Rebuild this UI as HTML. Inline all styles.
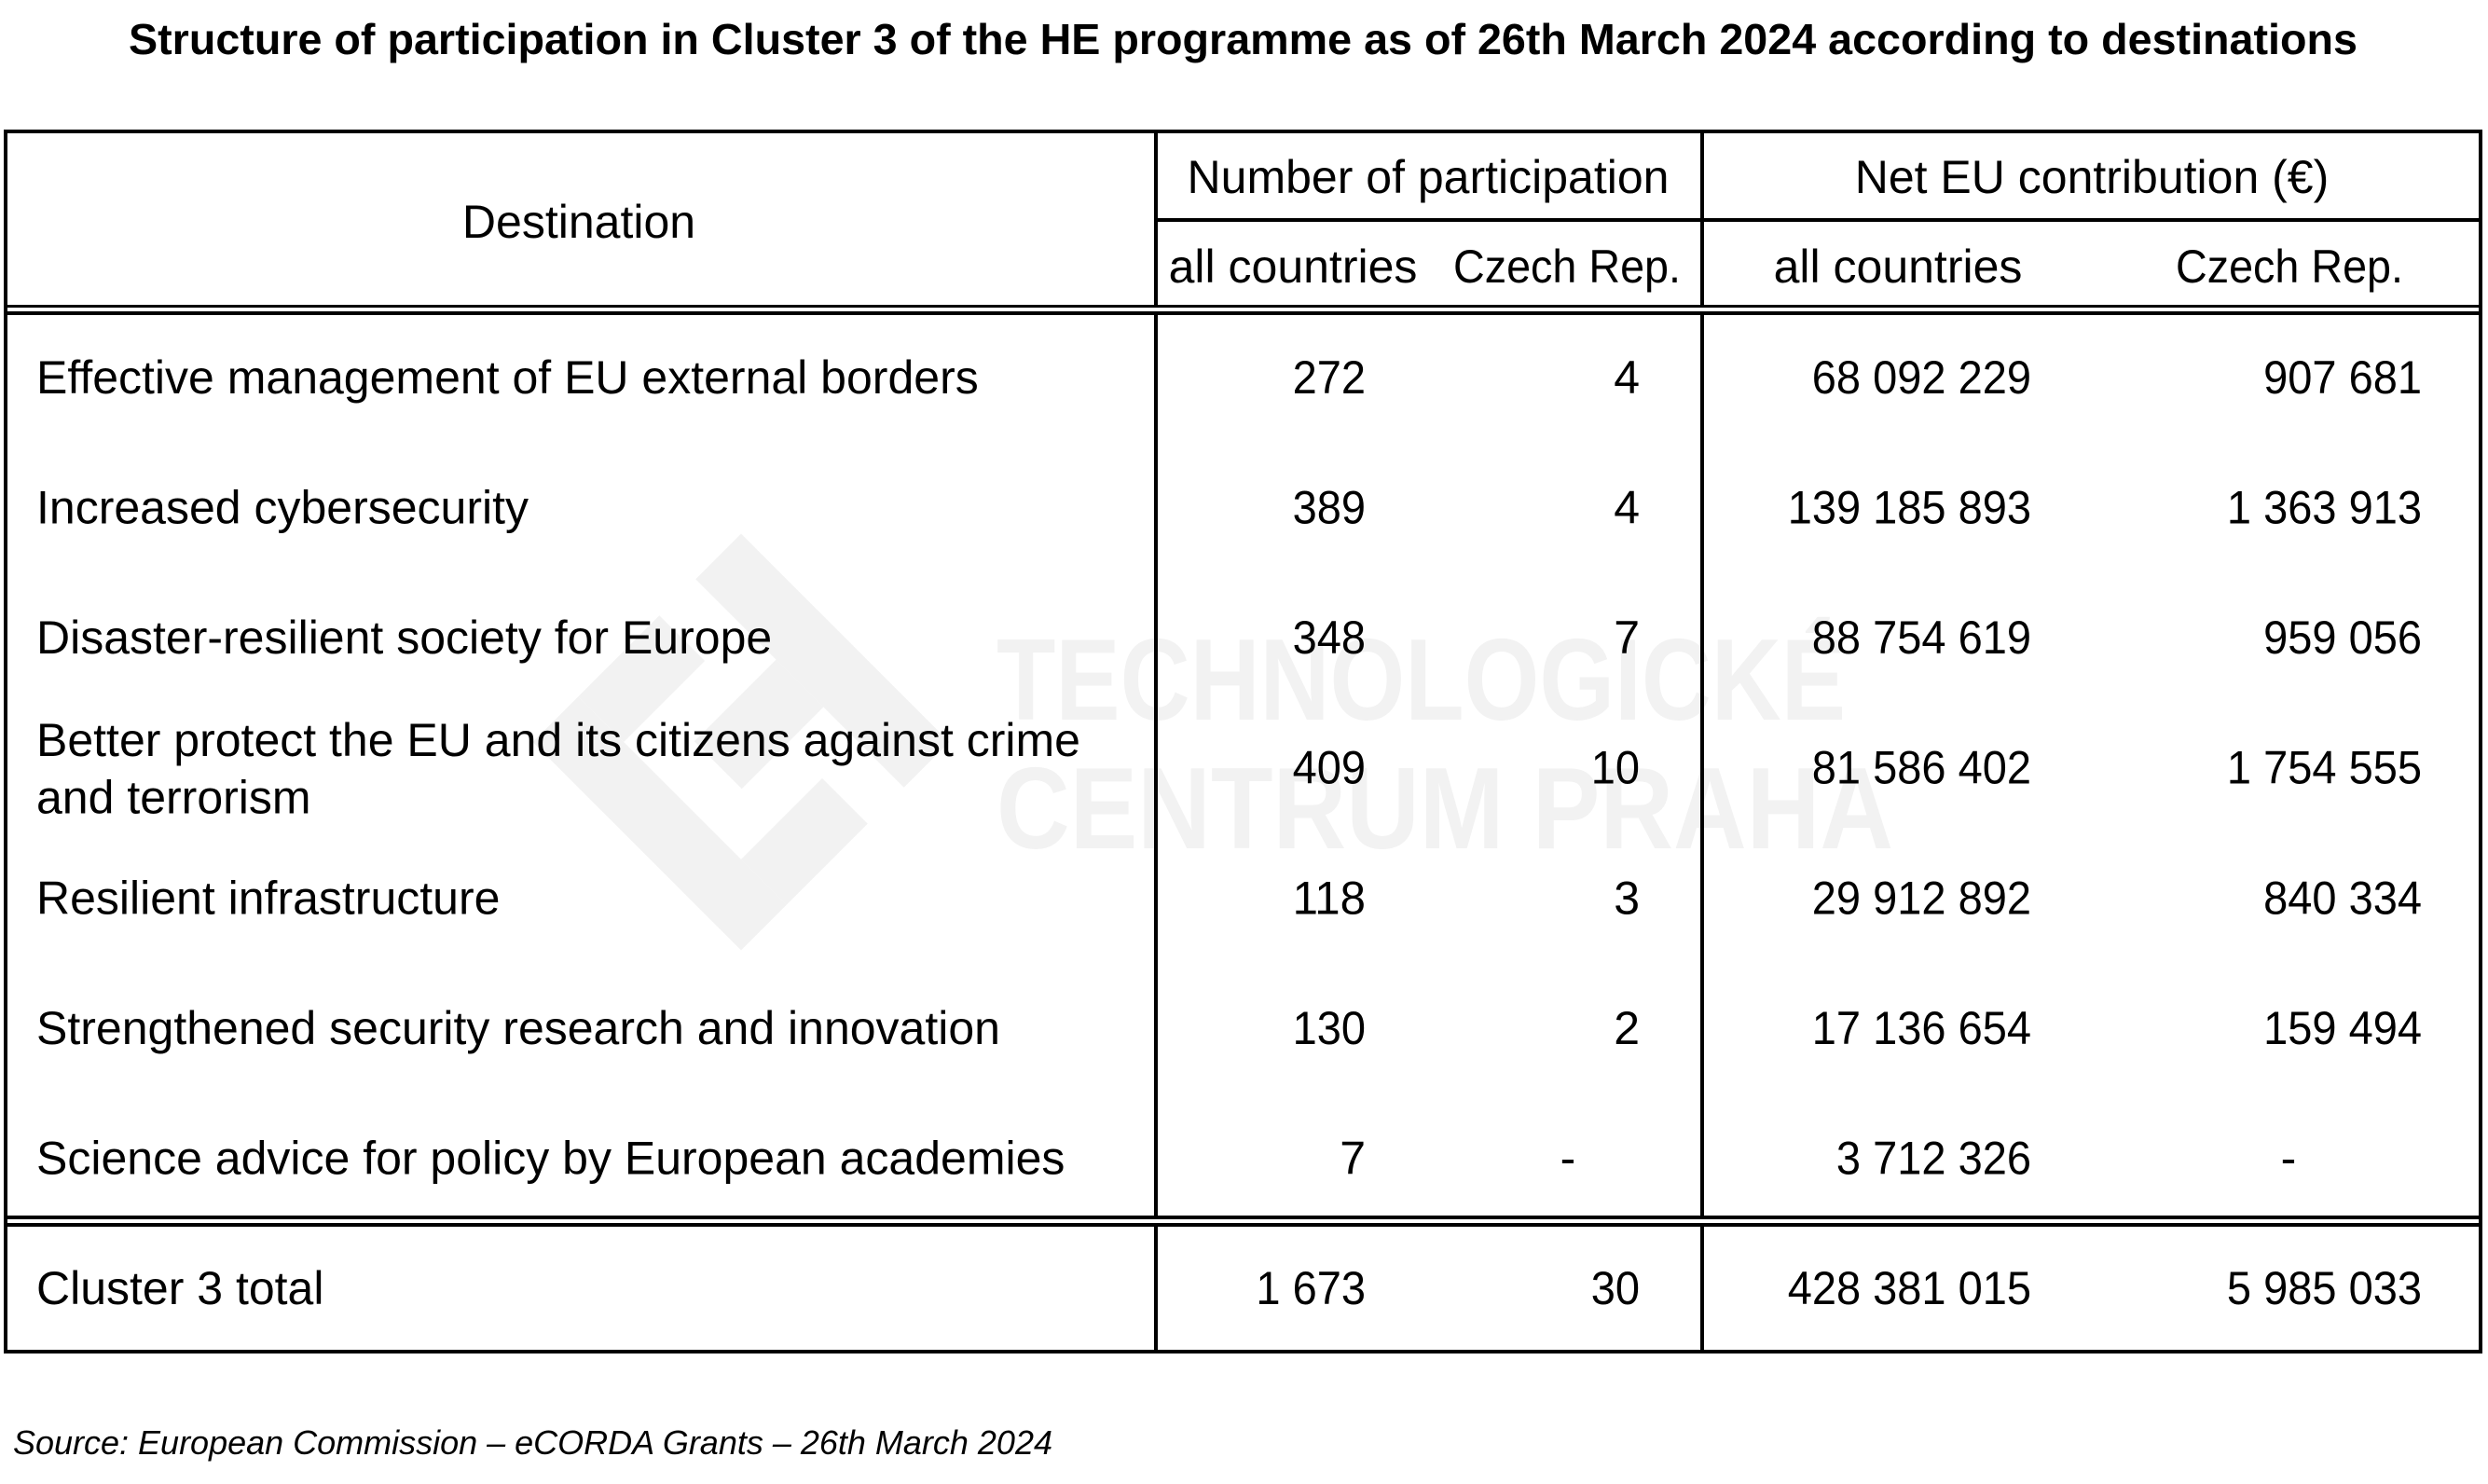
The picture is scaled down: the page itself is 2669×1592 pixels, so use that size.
<!DOCTYPE html>
<html>
<head>
<meta charset="utf-8">
<style>
  html, body { margin: 0; padding: 0; background: #ffffff; }
  svg { display: block; }
  text { font-family: "Liberation Sans", "DejaVu Sans", sans-serif; fill: #000; }
  .b { font-size: 50px; }
  .wm { font-weight: bold; font-size: 124px; fill: #f2f2f2; }
</style>
</head>
<body>
<svg width="2669" height="1592" viewBox="0 0 2669 1592" xmlns="http://www.w3.org/2000/svg">
  <rect x="0" y="0" width="2669" height="1592" fill="#ffffff"/>

  <!-- Watermark logo -->
  <g transform="translate(795,796) rotate(45)" fill="#f2f2f2">
    <rect x="-158" y="-158" width="316" height="69"/>
    <rect x="-36" y="-89" width="72" height="124"/>
    <rect x="-158" y="89" width="316" height="69"/>
    <rect x="-158" y="-34" width="69" height="123"/>
    <rect x="89" y="-34" width="69" height="123"/>
  </g>
  <!-- Watermark text -->
  <text class="wm" x="1069" y="772" textLength="911" lengthAdjust="spacingAndGlyphs">TECHNOLOGICKÉ</text>
  <text class="wm" x="1069" y="910" textLength="962" lengthAdjust="spacingAndGlyphs">CENTRUM PRAHA</text>

  <!-- Title -->
  <text x="138" y="58" font-weight="bold" font-size="46.6" textLength="2391" lengthAdjust="spacingAndGlyphs">Structure of participation in Cluster 3 of the HE programme as of 26th March 2024 according to destinations</text>

  <!-- Table lines -->
  <g fill="#000">
    <rect x="4" y="139" width="2659" height="4"/>
    <rect x="4" y="139" width="4" height="1313"/>
    <rect x="2659" y="139" width="4" height="1313"/>
    <rect x="4" y="1448" width="2659" height="4"/>
    <rect x="4" y="327" width="2659" height="3"/>
    <rect x="4" y="334" width="2659" height="4"/>
    <rect x="4" y="1304" width="2659" height="4"/>
    <rect x="4" y="1312" width="2659" height="4"/>
    <rect x="1238" y="234" width="1425" height="4"/>
    <!-- vertical 1 -->
    <rect x="1238" y="139" width="4" height="188"/>
    <rect x="1238" y="337" width="4" height="967"/>
    <rect x="1238" y="1316" width="4" height="132"/>
    <!-- vertical 2 -->
    <rect x="1824" y="139" width="4" height="188"/>
    <rect x="1824" y="337" width="4" height="967"/>
    <rect x="1824" y="1316" width="4" height="132"/>
  </g>

  <!-- Header -->
  <text class="b" x="621" y="255" text-anchor="middle">Destination</text>
  <text class="b" x="1532" y="207" text-anchor="middle">Number of participation</text>
  <text class="b" x="2244" y="207" text-anchor="middle">Net EU contribution (€)</text>
  <text class="b" x="1387" y="303" text-anchor="middle">all countries</text>
  <text class="b" x="1681" y="303" text-anchor="middle" textLength="244" lengthAdjust="spacingAndGlyphs">Czech Rep.</text>
  <text class="b" x="2036" y="303" text-anchor="middle">all countries</text>
  <text class="b" x="2456" y="303" text-anchor="middle" textLength="244" lengthAdjust="spacingAndGlyphs">Czech Rep.</text>

  <!-- Row labels -->
  <text class="b" x="39" y="422">Effective management of EU external borders</text>
  <text class="b" x="39" y="561.6">Increased cybersecurity</text>
  <text class="b" x="39" y="701.1">Disaster-resilient society for Europe</text>
  <text class="b" x="39" y="811">Better protect the EU and its citizens against crime</text>
  <text class="b" x="39" y="872.5">and terrorism</text>
  <text class="b" x="39" y="980.3">Resilient infrastructure</text>
  <text class="b" x="39" y="1119.9">Strengthened security research and innovation</text>
  <text class="b" x="39" y="1259.4">Science advice for policy by European academies</text>
  <text class="b" x="39" y="1399">Cluster 3 total</text>

  <!-- Numbers -->
  <g text-anchor="end">
    <text class="b" x="1465" y="422" textLength="78.4" lengthAdjust="spacingAndGlyphs">272</text>
    <text class="b" x="1465" y="561.6" textLength="78.4" lengthAdjust="spacingAndGlyphs">389</text>
    <text class="b" x="1465" y="701.1" textLength="78.4" lengthAdjust="spacingAndGlyphs">348</text>
    <text class="b" x="1465" y="840.7" textLength="78.4" lengthAdjust="spacingAndGlyphs">409</text>
    <text class="b" x="1465" y="980.3" textLength="78.4" lengthAdjust="spacingAndGlyphs">118</text>
    <text class="b" x="1465" y="1119.9" textLength="78.4" lengthAdjust="spacingAndGlyphs">130</text>
    <text class="b" x="1465" y="1259.4">7</text>
    <text class="b" x="1465" y="1399" textLength="117.6" lengthAdjust="spacingAndGlyphs">1 673</text>

    <text class="b" x="1759" y="422">4</text>
    <text class="b" x="1759" y="561.6">4</text>
    <text class="b" x="1759" y="701.1">7</text>
    <text class="b" x="1759" y="840.7" textLength="52.3" lengthAdjust="spacingAndGlyphs">10</text>
    <text class="b" x="1759" y="980.3">3</text>
    <text class="b" x="1759" y="1119.9">2</text>
    <text class="b" x="1759" y="1399" textLength="52.3" lengthAdjust="spacingAndGlyphs">30</text>

    <text class="b" x="2179" y="422" textLength="235.2" lengthAdjust="spacingAndGlyphs">68 092 229</text>
    <text class="b" x="2179" y="561.6" textLength="261.3" lengthAdjust="spacingAndGlyphs">139 185 893</text>
    <text class="b" x="2179" y="701.1" textLength="235.2" lengthAdjust="spacingAndGlyphs">88 754 619</text>
    <text class="b" x="2179" y="840.7" textLength="235.2" lengthAdjust="spacingAndGlyphs">81 586 402</text>
    <text class="b" x="2179" y="980.3" textLength="235.2" lengthAdjust="spacingAndGlyphs">29 912 892</text>
    <text class="b" x="2179" y="1119.9" textLength="235.2" lengthAdjust="spacingAndGlyphs">17 136 654</text>
    <text class="b" x="2179" y="1259.4" textLength="209.1" lengthAdjust="spacingAndGlyphs">3 712 326</text>
    <text class="b" x="2179" y="1399" textLength="261.3" lengthAdjust="spacingAndGlyphs">428 381 015</text>

    <text class="b" x="2598" y="422" textLength="169.9" lengthAdjust="spacingAndGlyphs">907 681</text>
    <text class="b" x="2598" y="561.6" textLength="209.1" lengthAdjust="spacingAndGlyphs">1 363 913</text>
    <text class="b" x="2598" y="701.1" textLength="169.9" lengthAdjust="spacingAndGlyphs">959 056</text>
    <text class="b" x="2598" y="840.7" textLength="209.1" lengthAdjust="spacingAndGlyphs">1 754 555</text>
    <text class="b" x="2598" y="980.3" textLength="169.9" lengthAdjust="spacingAndGlyphs">840 334</text>
    <text class="b" x="2598" y="1119.9" textLength="169.9" lengthAdjust="spacingAndGlyphs">159 494</text>
    <text class="b" x="2598" y="1399" textLength="209.1" lengthAdjust="spacingAndGlyphs">5 985 033</text>
  </g>
  <text class="b" x="1682" y="1259.4" text-anchor="middle">-</text>
  <text class="b" x="2455" y="1259.4" text-anchor="middle">-</text>

  <!-- Source -->
  <text x="14" y="1560" font-style="italic" font-size="36" textLength="1115" lengthAdjust="spacingAndGlyphs">Source: European Commission – eCORDA Grants – 26th March 2024</text>
</svg>
</body>
</html>
